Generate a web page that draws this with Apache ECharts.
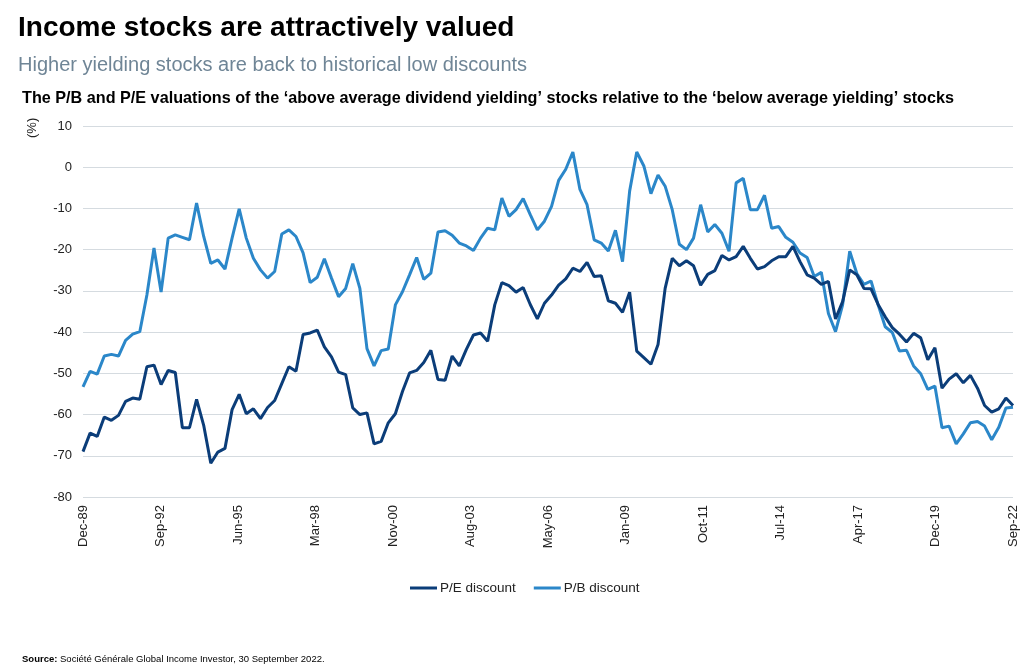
<!DOCTYPE html>
<html><head><meta charset="utf-8">
<script src="https://cdn.jsdelivr.net/npm/echarts@6/dist/echarts.min.js"></script>
<style>html,body{margin:0;padding:0;background:#fff}#c{width:1024px;height:670px}</style>
</head><body><div id="c"></div>
<script>
// Quarterly observations, Dec-89 .. Sep-22 (132 quarters)
const xTickLabels = ['Dec-89','Sep-92','Jun-95','Mar-98','Nov-00','Aug-03','May-06','Jan-09','Oct-11','Jul-14','Apr-17','Dec-19','Sep-22'];
const peDiscount = [
 -69,-64.5,-65.3,-60.6,-61.4,-60.2,-56.8,-56,-56.3,-48.4,-48,-52.7,-49.3,-49.8,-63.2,-63.2,-56.3,-62.6,-71.8,-69.1,-68.2,-58.8,-55.1,
 -59.8,-58.6,-61,-58.3,-56.6,-52.5,-48.4,-49.5,-40.6,-40.2,-39.5,-43.6,-46,-49.7,-50.3,-58.4,-60,-59.6,-67.1,-66.5,-62,-59.8,
 -54.4,-49.9,-49.3,-47.4,-44.4,-51.5,-51.7,-45.8,-48.2,-44.2,-40.7,-40.2,-42.2,-33.4,-28,-28.7,-30.3,-29.2,-33.3,-36.8,-33,-31,
 -28.6,-27.1,-24.5,-25.3,-23.1,-26.5,-26.3,-32.4,-33,-35.2,-30.3,-44.6,-46.2,-47.8,-43,-29.4,-22.1,-23.9,-22.7,-23.9,-28.6,
 -26,-25.1,-21.4,-22.5,-21.7,-19.2,-22.1,-24.7,-24.1,-22.7,-21.7,-21.7,-19.2,-22.9,-26.1,-26.9,-28.4,-27.7,-36.8,-32.6,-24.9,
 -26.1,-29.4,-29.5,-33.3,-36.3,-38.9,-40.5,-42.4,-40.3,-41.4,-46.7,-43.8,-53.6,-51.4,-50.1,-52.3,-50.5,-53.6,-57.8,-59.4,-58.6,-56,-57.8
];
const pbDiscount = [
 -53.3,-49.5,-50.2,-45.8,-45.4,-45.8,-42,-40.5,-39.9,-31,-19.6,-30.3,-17.2,-16.4,-17,-17.6,-8.7,-16.8,-23.3,-22.5,-24.7,-17.2,-10.1,
 -17.2,-22.1,-24.9,-26.9,-25.3,-16.2,-15.2,-16.8,-20.8,-28,-26.7,-22.2,-26.9,-31.4,-29.4,-23.4,-29.4,-44,-48.2,-44.5,-44.1,-33.4,
 -30.2,-26.1,-21.9,-27.2,-25.7,-15.7,-15.4,-16.5,-18.4,-19.1,-20.2,-17.2,-14.8,-15.2,-7.5,-11.9,-10.3,-7.6,-11.5,-15.2,-13.1,-9.5,
 -3.2,-0.5,3.7,-5.4,-9.1,-17.6,-18.4,-20.3,-15.3,-22.9,-5.8,3.7,0.3,-6.4,-1.9,-4.6,-10.3,-18.7,-20,-17.2,-9.1,
 -15.7,-13.9,-16,-20.4,-3.8,-2.7,-10.3,-10.3,-6.8,-14.8,-14.4,-17,-18.2,-20.8,-21.9,-26.5,-25.5,-35.5,-39.9,-33.4,-20.4,
 -25.8,-28.4,-27.6,-33.4,-38.7,-40.1,-44.6,-44.4,-48.2,-50.1,-53.9,-53.1,-63.2,-62.8,-67.1,-64.7,-62,-61.7,-62.8,-66.1,-63.1,-58.4,-58.2
];
const seriesNames = ['P/E discount','P/B discount'];

const UNITS_PER_QUARTER = 12;
const nLabels = xTickLabels.length;
const xMax = (peDiscount.length - 1) * UNITS_PER_QUARTER;
const labelInterval = xMax / (nLabels - 1);
const toXY = arr => arr.map((v, i) => [i * UNITS_PER_QUARTER, v]);

const FONT = "'Liberation Sans', Arial, Helvetica, sans-serif";
const chart = echarts.init(document.getElementById('c'), null, {renderer: 'canvas'});
chart.setOption({
  animation: false,
  backgroundColor: '#fff',
  textStyle: {fontFamily: FONT},
  title: [
    {text: 'Income stocks are attractively valued', left: 13, top: 9,
     textStyle: {fontFamily: FONT, fontSize: 28, fontWeight: 'bold', color: '#000'}},
    {text: 'Higher yielding stocks are back to historical low discounts', left: 13, top: 50,
     textStyle: {fontFamily: FONT, fontSize: 20, fontWeight: 'normal', color: '#6f8596'}},
    {text: 'The P/B and P/E valuations of the \u2018above average dividend yielding\u2019 stocks relative to the \u2018below average yielding\u2019 stocks',
     left: 17, top: 86, textStyle: {fontFamily: FONT, fontSize: 16.2, fontWeight: 'bold', color: '#000'}}
  ],
  graphic: [
    {type: 'text', x: 26, y: 138, rotation: Math.PI / 2,
     style: {text: '(%)', font: '13px ' + FONT, fill: '#222', textAlign: 'left', textVerticalAlign: 'top'}},
    {type: 'text', left: 22, top: 654,
     style: {rich: {b: {fontWeight: 'bold', fontSize: 9.5, fontFamily: FONT, fill: '#000'},
                    n: {fontSize: 9.5, fontFamily: FONT, fill: '#000'}},
             text: '{b|Source:}{n| Soci\u00e9t\u00e9 G\u00e9n\u00e9rale Global Income Investor, 30 September 2022.}'}}
  ],
  legend: {
    left: 405, top: 576, itemWidth: 27, itemHeight: 3, itemGap: 18, icon: 'rect',
    textStyle: {fontFamily: FONT, fontSize: 13.5, color: '#222', padding: [0, 0, 0, -2]},
    data: seriesNames
  },
  grid: {left: 83, right: 11, top: 126, bottom: 173, containLabel: false},
  xAxis: {
    type: 'value', min: 0, max: xMax, interval: labelInterval,
    axisLine: {show: false}, axisTick: {show: false}, splitLine: {show: false},
    axisLabel: {rotate: 90, margin: 8, fontFamily: FONT, fontSize: 13, color: '#222',
      showMinLabel: true, showMaxLabel: true,
      formatter: v => xTickLabels[Math.round(v / labelInterval)] || ''}
  },
  yAxis: {
    type: 'value', min: -80, max: 10, interval: 10,
    axisLine: {show: false}, axisTick: {show: false},
    splitLine: {lineStyle: {color: '#d5dbe0', width: 1}},
    axisLabel: {margin: 11, fontFamily: FONT, fontSize: 13, color: '#222'}
  },
  series: [
    {name: seriesNames[0], type: 'line', data: toXY(peDiscount), showSymbol: false, symbol: 'none',
     lineStyle: {color: '#0b3d79', width: 3}, itemStyle: {color: '#0b3d79'}, z: 3},
    {name: seriesNames[1], type: 'line', data: toXY(pbDiscount), showSymbol: false, symbol: 'none',
     lineStyle: {color: '#2b87c9', width: 3}, itemStyle: {color: '#2b87c9'}, z: 2}
  ]
});
</script></body></html>
